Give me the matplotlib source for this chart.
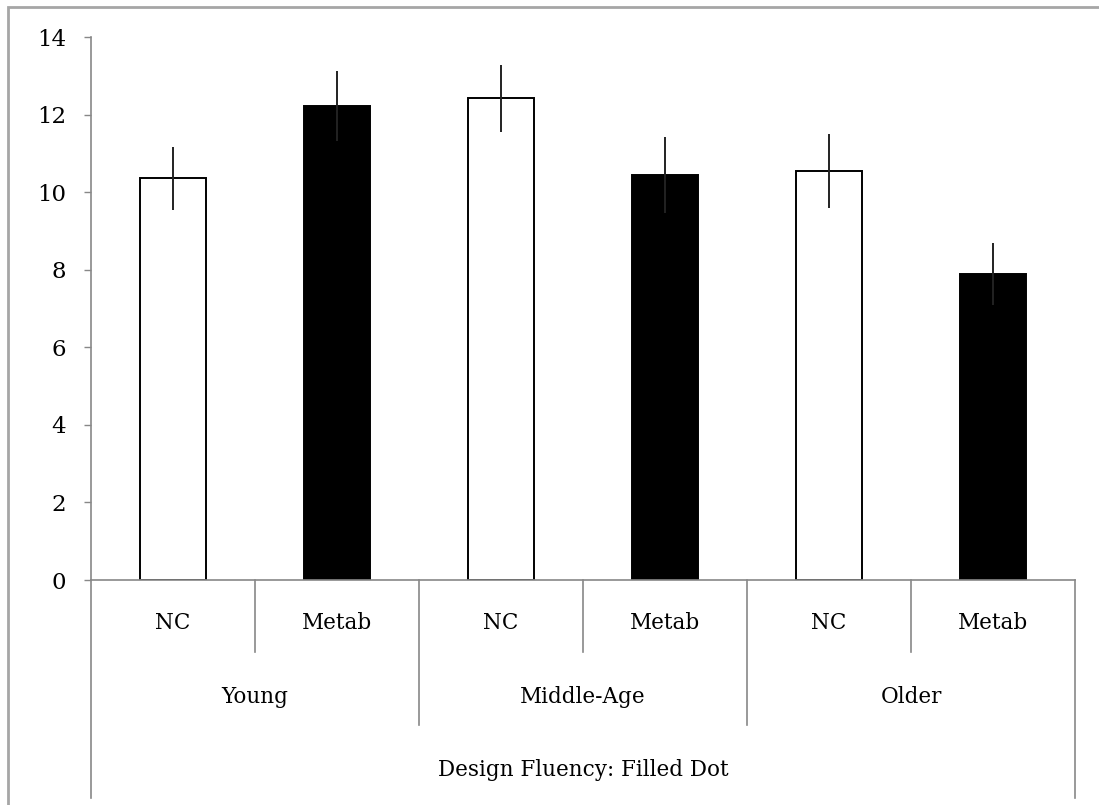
import numpy as np
import matplotlib.pyplot as plt
from matplotlib.patches import Rectangle

plt.rcParams["font.family"] = ["DejaVu Serif"]

groups = ["Young", "Middle-Age", "Older"]
conditions = ["NC", "Metab", "NC", "Metab", "NC", "Metab"]
means = [10.36, 12.22, 12.42, 10.44, 10.54, 7.89]
errors = [0.81, 0.90, 0.86, 0.97, 0.95, 0.80]
fills = ["white", "black", "white", "black", "white", "black"]
axis_title = "Design Fluency: Filled Dot"

grey = "#888888"
fs = 15.5

fig = plt.figure(figsize=(10.99, 8.05), dpi=100)
ax = fig.add_axes([91 / 1099, 1 - 580 / 805, (1075 - 91) / 1099, (580 - 37) / 805])

x = np.arange(len(means))
ax.bar(x, means, width=0.4, color=fills, edgecolor="black", linewidth=1.4, zorder=2)
ax.errorbar(x, means, yerr=errors, fmt="none", ecolor="#222222", elinewidth=1.4,
            capsize=0, zorder=3)

ax.set_xlim(-0.5, len(means) - 0.5)
ax.set_ylim(0, 14)
ax.set_yticks(range(0, 15, 2))
ax.tick_params(axis="y", direction="out", length=5, width=1, color=grey,
               labelsize=16.5, pad=13)
ax.set_xticks([])
for s in ["top", "right"]:
    ax.spines[s].set_visible(False)
for s in ["left", "bottom"]:
    ax.spines[s].set_color(grey)
    ax.spines[s].set_linewidth(1.2)

# multi-level category axis below zero
y_sub, y_grp, y_all = -1.86, -3.74, -5.62
kw = dict(color=grey, lw=1.2, clip_on=False)
for i in range(1, len(means)):
    depth = y_grp if i % 2 == 0 else y_sub
    ax.plot([i - 0.5, i - 0.5], [0, depth], **kw)
ax.plot([-0.5, -0.5], [0, y_all], **kw)
ax.plot([len(means) - 0.5] * 2, [0, y_all], **kw)

for i, lab in enumerate(conditions):
    ax.text(i, -1.11, lab, ha="center", va="center", fontsize=fs)
for g, lab in enumerate(groups):
    ax.text(2 * g + 0.5, -3.02, lab, ha="center", va="center", fontsize=fs)
ax.text((len(means) - 1) / 2, -4.9, axis_title, ha="center", va="center", fontsize=fs)

# chart area frame
fig.patches.append(Rectangle((8 / 1099, -0.1), 1.2, 1.1 - 7 / 805, transform=fig.transFigure,
                             fill=False, edgecolor="#a6a6a6", lw=2))

fig.savefig("out.png", dpi=100)
